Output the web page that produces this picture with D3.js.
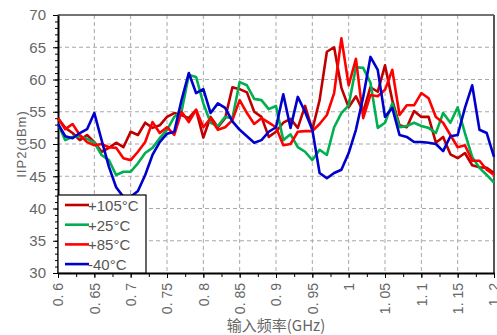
<!DOCTYPE html>
<meta charset="utf-8">
<script src="https://d3js.org/d3.v7.min.js"></script>
<style>
  body { margin: 0; background: #fff; }
  text { font-family: "Liberation Sans", Arial, sans-serif; }
</style>
<div id="chart"></div>
<script>

// frequency points (GHz)
var freqs = d3.range(0, 61).map(function(i) { return +(0.6 + i * 0.01).toFixed(2); });

// IIP2 (dBm) per temperature
var t105 = [54.0, 52.5, 51.7, 50.6, 51.4, 50.3, 48.8, 49.4, 50.2, 49.5,
            51.9, 51.4, 53.3, 52.5, 52.9, 54.2, 54.8, 54.5, 54.0, 55.3,
            51.0, 54.2, 52.6, 54.0, 58.8, 58.5, 58.0, 55.0, 54.2, 51.1,
            51.9, 53.3, 53.9, 52.5, 55.9, 52.2, 56.8, 64.3, 65.0, 58.7,
            55.7, 57.4, 55.0, 58.8, 58.1, 62.2, 56.8, 52.9, 52.6, 55.1,
            54.2, 54.2, 50.2, 51.1, 48.4, 47.8, 48.6, 46.7, 46.4, 46.3, 45.5];
var t25 = [53.1, 50.6, 51.1, 51.2, 50.8, 50.2, 48.3, 47.5, 45.2, 45.7,
           45.7, 47.0, 48.6, 49.4, 50.9, 52.2, 54.2, 55.0, 60.7, 60.4,
           56.3, 53.3, 52.8, 54.2, 54.0, 59.6, 59.1, 57.0, 56.8, 55.4,
           55.9, 50.6, 51.5, 49.5, 48.8, 47.5, 49.1, 48.3, 52.6, 54.8,
           56.0, 61.9, 61.8, 59.5, 52.5, 53.3, 56.3, 52.6, 52.8, 53.3,
           52.8, 52.5, 51.7, 54.8, 53.3, 55.7, 51.7, 48.0, 46.3, 45.2, 44.0];
var t85 = [54.0, 52.3, 53.1, 51.4, 50.3, 49.8, 50.0, 49.5, 49.4, 47.8,
           47.5, 48.8, 50.3, 53.4, 51.7, 52.6, 51.4, 55.0, 53.4, 55.3,
           52.6, 54.0, 52.2, 52.6, 53.7, 56.8, 54.8, 53.1, 54.0, 53.3,
           52.6, 49.8, 50.0, 51.9, 52.0, 52.0, 53.1, 54.5, 57.9, 66.4,
           59.1, 63.2, 54.0, 57.6, 57.4, 58.4, 61.5, 54.5, 56.0, 56.0,
           57.9, 57.1, 54.2, 53.3, 51.4, 49.5, 49.8, 47.4, 47.4, 46.0, 45.2];
var tm40 = [53.1, 51.2, 50.9, 51.7, 52.3, 54.8, 50.6, 46.5, 43.3, 41.8,
            41.8, 42.7, 45.2, 48.3, 50.3, 51.6, 51.9, 56.8, 61.0, 57.9,
            58.5, 54.8, 56.3, 55.6, 53.5, 52.2, 51.2, 50.2, 50.6, 51.9,
            52.6, 57.7, 52.5, 57.3, 55.0, 52.2, 45.5, 44.7, 45.5, 46.0,
            48.6, 52.2, 57.3, 63.5, 61.5, 54.2, 55.6, 51.4, 51.1, 50.3,
            50.3, 50.2, 50.0, 48.9, 51.2, 51.4, 55.6, 59.1, 52.2, 51.7, 48.0];

var seriesNames = ["+105°C", "+25°C", "+85°C", "-40°C"];
var seriesColors = ["#c00000", "#00b050", "#ff0000", "#0000cc"];
var seriesValues = [t105, t25, t85, tm40];

var xTicks = [0.6, 0.65, 0.7, 0.75, 0.8, 0.85, 0.9, 0.95, 1, 1.05, 1.1, 1.15, 1.2];
var yTicks = [30, 35, 40, 45, 50, 55, 60, 65, 70];

var margin = {top: 15, right: 3, bottom: 62, left: 58},
    width = 497 - margin.left - margin.right,
    height = 335 - margin.top - margin.bottom;

var svg = d3.select("#chart")
  .append("svg")
    .attr("width", 497)
    .attr("height", 335)
  .append("g")
    .attr("transform", "translate(" + margin.left + "," + margin.top + ")");

var x = d3.scaleLinear().domain([0.6, 1.2]).range([0, width]);
var y = d3.scaleLinear().domain([30, 70]).range([height, 0]);

// dashed grid
svg.append("g").selectAll("line").data(xTicks.slice(1, -1)).join("line")
  .attr("x1", function(d) { return x(d); }).attr("x2", function(d) { return x(d); })
  .attr("y1", 0).attr("y2", height)
  .attr("stroke", "#a8a8a8").attr("stroke-dasharray", "4,3");
svg.append("g").selectAll("line").data(yTicks.slice(1, -1)).join("line")
  .attr("y1", function(d) { return y(d); }).attr("y2", function(d) { return y(d); })
  .attr("x1", 0).attr("x2", width)
  .attr("stroke", "#a8a8a8").attr("stroke-dasharray", "4,3");

// frame top / right
svg.append("line").attr("x1", 0).attr("x2", width).attr("y1", 0).attr("y2", 0)
  .attr("stroke", "#444").attr("stroke-width", 1.5);
svg.append("line").attr("x1", width).attr("x2", width).attr("y1", 0).attr("y2", height)
  .attr("stroke", "#555").attr("stroke-width", 2);

// minor ticks
var yMinor = svg.append("g").call(d3.axisLeft(y).tickValues(d3.range(30, 71, 1)).tickSize(3).tickFormat(""));
yMinor.select(".domain").remove();
var xMinor = svg.append("g").attr("transform", "translate(0," + height + ")")
  .call(d3.axisBottom(x).tickValues(d3.range(0, 25).map(function(i) { return 0.6 + i * 0.025; })).tickSize(4).tickFormat(""));
xMinor.select(".domain").remove();

// Y axis
var yAxis = svg.append("g")
  .call(d3.axisLeft(y).tickValues(yTicks).tickSize(5).tickSizeOuter(0));
yAxis.select(".domain").attr("stroke-width", 2);
yAxis.selectAll("text")
  .attr("fill", "#666").style("font-size", "15px").attr("dx", "-4");

// X axis
var xAxis = svg.append("g")
  .attr("transform", "translate(0," + height + ")")
  .call(d3.axisBottom(x).tickValues(xTicks).tickSize(5).tickSizeOuter(0)
    .tickFormat(function(d) { return d3.format(".2~f")(d).replace(".", ". "); }));
xAxis.select(".domain").attr("stroke-width", 2);
xAxis.selectAll("text")
  .attr("fill", "#666")
  .style("font-size", "14px")
  .attr("transform", "rotate(-90)")
  .attr("text-anchor", "end")
  .attr("x", -10).attr("y", 0).attr("dy", "0.35em");

// lines
var line = d3.line()
  .x(function(d, i) { return x(freqs[i]); })
  .y(function(d) { return y(d); });

seriesValues.forEach(function(vals, k) {
  svg.append("path")
    .datum(vals)
    .attr("fill", "none")
    .attr("stroke", seriesColors[k])
    .attr("stroke-width", 2.6)
    .attr("stroke-linejoin", "round")
    .attr("d", line);
});

// legend
var lg = svg.append("g");
lg.append("rect").attr("x", 0).attr("y", 180).attr("width", 88).attr("height", height - 180)
  .attr("fill", "#fff").attr("stroke", "#000").attr("stroke-width", 1.2);
seriesNames.forEach(function(name, k) {
  var yy = 190 + k * 19.7;
  lg.append("line").attr("x1", 7).attr("x2", 31).attr("y1", yy).attr("y2", yy)
    .attr("stroke", seriesColors[k]).attr("stroke-width", 2.6);
  lg.append("text").attr("x", 30).attr("y", yy + 6).text(name)
    .attr("fill", "#555").style("font-size", "15px");
});

// axis titles
svg.append("text")
  .attr("transform", "translate(" + (-32) + "," + (height / 2) + ") rotate(-90)")
  .attr("text-anchor", "middle")
  .attr("fill", "#666")
  .style("font-size", "13px")
  .style("letter-spacing", "1px")
  .text("IIP2(dBm)");

svg.append("text")
  .attr("x", width / 2).attr("y", height + 58)
  .attr("text-anchor", "middle")
  .attr("fill", "#666")
  .style("font-family", "'Noto Sans CJK SC', sans-serif")
  .style("font-size", "15px")
  .text("输入频率(GHz)");

</script>
